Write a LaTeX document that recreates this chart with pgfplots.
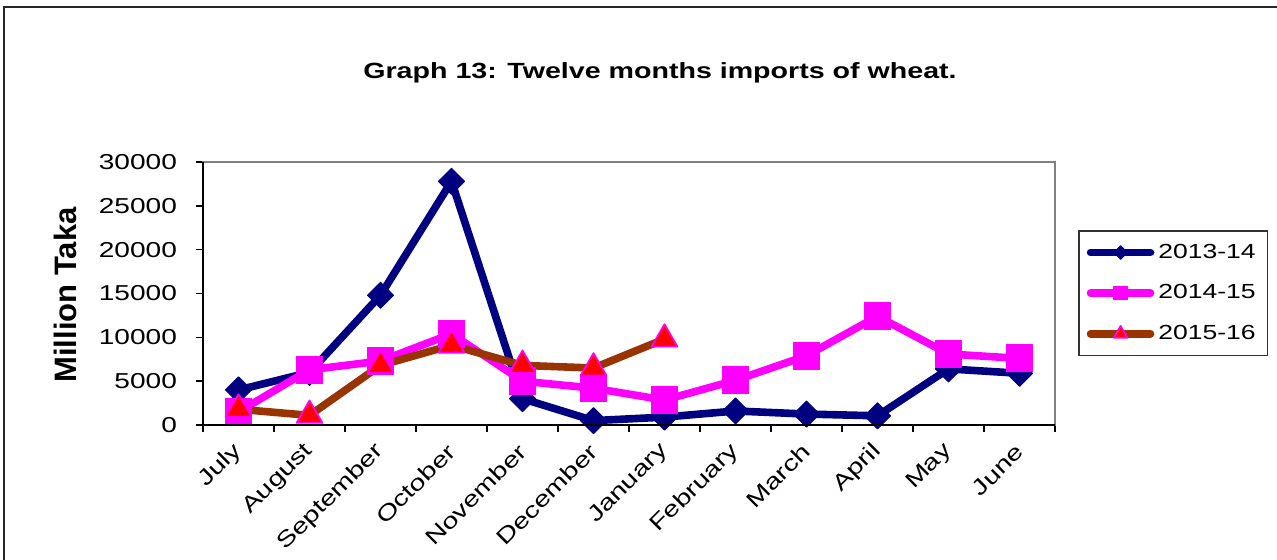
\documentclass[border=0pt]{standalone}
\usepackage{fontspec}
\setmainfont{Liberation Sans}[FakeStretch=1.3]
\newfontfamily\plainsans{Liberation Sans}
\usepackage{pgfplots}
\pgfplotsset{compat=1.18}
\usetikzlibrary{plotmarks}
\definecolor{navy}{RGB}{0,0,128}
\definecolor{mag}{RGB}{255,0,255}
\definecolor{brn}{RGB}{153,51,0}
\definecolor{tri}{RGB}{255,0,0}
\pgfplotsset{
  legdiam/.style={legend image code/.code={\draw[mark repeat=2,mark phase=2,##1,line cap=round,mark size=2.4pt] plot coordinates {(0pt,0pt) (15pt,0pt) (30pt,0pt)};}},
  legsq/.style={legend image code/.code={\draw[mark repeat=2,mark phase=2,##1,line cap=round,mark size=3.3pt] plot coordinates {(0pt,0pt) (15pt,0pt) (30pt,0pt)};}},
  legtri/.style={legend image code/.code={\draw[mark repeat=2,mark phase=2,##1,line cap=round,mark size=4pt] plot coordinates {(0pt,0pt) (15pt,0pt) (30pt,0pt)};}},
}
\begin{document}
\begin{tikzpicture}
\useasboundingbox (0pt,0pt) rectangle (638.5pt,279.5pt);
\draw[line width=1pt, black!85] (2pt,-30pt) -- (2pt,276pt) -- (670pt,276pt);
\node[font=\bfseries\fontsize{11}{13}\selectfont] at (330pt,243pt) {Graph 13: Twelve months imports of wheat.};
\begin{axis}[
  at={(101.5pt,67pt)}, anchor=south west,
  scale only axis, width=426pt, height=131.5pt,
  xmin=-0.5, xmax=11.5, ymin=0, ymax=30000,
  clip=false,
  axis line style={draw=black!50, line width=1pt},
  tick align=outside,
  major tick length=3.5pt,
  minor tick length=3.5pt,
  xtick={0,...,11},
  xticklabels={July,August,September,October,November,December,January,February,March,April,May,June},
  major x tick style={draw=none},
  minor xtick={-0.5,0.5,...,11.5},
  minor x tick style={black, line width=0.75pt},
  xtick pos=bottom, ytick pos=left,
  ytick={0,5000,...,30000},
  y tick style={black, line width=0.75pt},
  /pgf/number format/.cd, 1000 sep={}, assume math mode=true, /pgfplots/.cd,
  scaled y ticks=false,
  xticklabel style={xshift=2.5pt, yshift=-5.5pt, rotate=45, anchor=east, font=\fontsize{11}{13}\selectfont},
  yticklabel style={xshift=-6pt, font=\fontsize{10.8}{13}\selectfont},
  ylabel={Million Taka},
  ylabel style={at={(axis description cs:-0.162,0.494)}, anchor=center, font=\plainsans\bfseries\fontsize{15.5}{18}\selectfont},
  legend style={at={(axis description cs:1.027,0.741)}, anchor=north west, draw=black!80, line width=0.75pt,
    font=\fontsize{10.2}{12}\selectfont, row sep=7.7pt, inner xsep=4pt, inner ysep=4.5pt},
  legend cell align=left,
  after end axis/.code={\draw[black, line width=1pt] (rel axis cs:0,1) -- (rel axis cs:0,0) -- (rel axis cs:1,0);},
]
\addplot[navy, line width=3.8pt, line join=round, mark=square*, mark size=4.6pt,
  mark options={rotate=45, solid, fill=navy, draw=navy, line width=0.5pt}, legdiam]
  coordinates {(0,4000) (1,6000) (2,14800) (3,27800) (4,3000) (5,500) (6,900) (7,1600) (8,1250) (9,1050) (10,6400) (11,5900)};
\addlegendentry{2013-14}
\addplot[mag, line width=3.8pt, line join=round, mark=square*, mark size=6.7pt,
  mark options={solid, fill=mag, draw=mag, line width=0.5pt}, legsq]
  coordinates {(0,1500) (1,6300) (2,7300) (3,10400) (4,5000) (5,4200) (6,2850) (7,5100) (8,7900) (9,12400) (10,8100) (11,7600)};
\addlegendentry{2014-15}
\addplot[brn, line width=3.8pt, line join=round, mark=triangle*, mark size=7.5pt,
  mark options={solid, fill=tri, draw=mag, line width=0.8pt}, legtri]
  coordinates {(0,1800) (1,1100) (2,6800) (3,9100) (4,6800) (5,6500) (6,9800)};
\addlegendentry{2015-16}
\end{axis}
\end{tikzpicture}
\end{document}
